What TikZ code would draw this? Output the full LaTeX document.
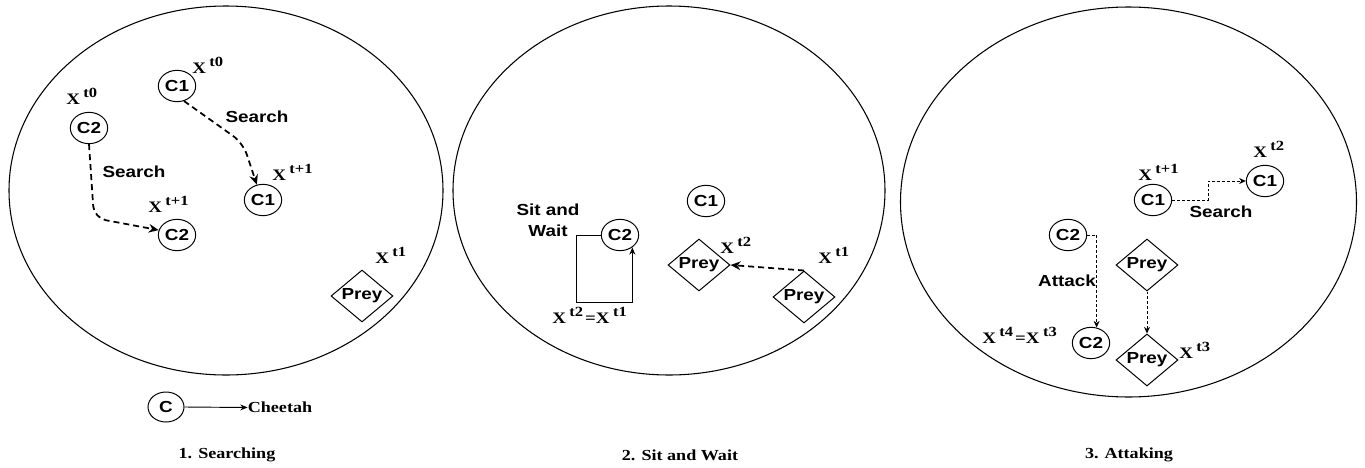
\documentclass[tikz,border=0pt]{standalone}
\usepackage{fontspec}
\usetikzlibrary{shapes.geometric,arrows.meta}
\newfontfamily\lblfont{Liberation Sans Bold}[FakeStretch=1.18]
\newfontfamily\serfont{Liberation Serif Bold}[FakeStretch=1.18]
% position label: bold serif X with a raised time index
\newcommand\xlab[1]{{\serfont\fontsize{12}{14}\selectfont X\hspace{0.22em}\raisebox{0.4em}{\fontsize{10.5}{12}\selectfont #1}}}
\newcommand\xeq{{\serfont\fontsize{12}{14}\selectfont =}}
\tikzset{
  panel/.style={draw, line width=0.8pt},
  cheetah/.style={ellipse, draw, line width=0.75pt, minimum width=28pt, minimum height=23.5pt,
    inner sep=0pt, font=\lblfont\fontsize{12}{14}\selectfont},
  prey/.style={diamond, draw, line width=0.75pt, aspect=1.2, minimum width=46.5pt, minimum height=39pt,
    inner sep=0pt, font=\lblfont\fontsize{12}{14}\selectfont},
  lbl/.style={inner sep=0pt, font=\lblfont\fontsize{12}{15.5}\selectfont, align=center},
  xl/.style={anchor=base west, inner sep=0pt},
  capt/.style={inner sep=0pt, font=\serfont\fontsize{11.5}{13}\selectfont},
  bigdash/.style={line width=1.3pt, dash pattern=on 4.5pt off 3pt, rounded corners=9pt,
    -{Stealth[length=7.5pt,width=6.5pt]}},
  thindash/.style={line width=0.7pt, dash pattern=on 2.2pt off 1.5pt,
    -{Stealth[length=5pt,width=4.5pt]}},
  solidarrow/.style={line width=0.7pt, -{Stealth[length=5.5pt,width=4.5pt]}}
}
\begin{document}
\begin{tikzpicture}[x=0.75pt,y=-0.75pt]
\useasboundingbox (0,0) rectangle (1365,468);

% the three habitat regions
\draw[panel] (226,190.5) ellipse (217 and 184.5);
\draw[panel] (669,190.5) ellipse (216 and 184.5);
\draw[panel] (1128.5,202) ellipse (228 and 195);

% ---------- 1. Searching ----------
\node[cheetah] (p1c1a) at (177,86) {C1};
\node[cheetah] (p1c1b) at (263,200) {C1};
\node[cheetah] (p1c2a) at (89,128) {C2};
\node[cheetah] (p1c2b) at (177,235) {C2};
\node[prey]    (p1prey) at (362,296) {Prey};

\node[xl] (p1x1) at (192,73)  {\xlab{t0}};
\node[xl] (p1x2) at (66,104)  {\xlab{t0}};
\node[xl] (p1x3) at (148,212) {\xlab{t+1}};
\node[xl] (p1x4) at (272,180) {\xlab{t+1}};
\node[xl] (p1x5) at (375,263) {\xlab{t1}};

\coordinate (p1k1) at (243,143);
\coordinate (p1k2) at (94,218);
\draw[bigdash] (p1c1a.-65) -- (p1k1) -- (p1c1b.112);
\draw[bigdash] (p1c2a.south) -- (p1k2) -- (p1c2b.165);
\node[lbl] (p1s1) at (257,117) {Search};
\node[lbl] (p1s2) at (134,172) {Search};

% legend
\node[cheetah, minimum width=27pt, minimum height=22.5pt] (legc) at (166,407) {C};
\node[capt] (legt) at (280,407.5) {Cheetah};
\draw[solidarrow] (legc.east) -- (legt.west);

\node[capt] (cap1) at (227,455) {1. Searching};

% ---------- 2. Sit and Wait ----------
\node[cheetah] (p2c2) at (620,235) {C2};
\node[cheetah] (p2c1) at (706,201) {C1};
\node[prey]    (p2preya) at (699,265) {Prey};
\node[prey]    (p2preyb) at (804,297) {Prey};

\node[lbl] (p2sw) at (548,220) {Sit and\\Wait};
\coordinate (p2k) at (576,302);
\draw[solidarrow] (p2c2.west) -| (p2k) -| (p2c2.-45);
\node[xl] (p2x1) at (552,323) {\xlab{t2}\hspace{0.15em}\xeq\xlab{t1}};
\node[xl] (p2x2) at (720,253) {\xlab{t2}};
\node[xl] (p2x3) at (818,263) {\xlab{t1}};
\draw[bigdash] (p2preyb.north) -- (p2preya.east);

\node[capt] (cap2) at (680,455) {2. Sit and Wait};

% ---------- 3. Attacking ----------
\node[cheetah] (p3c1a) at (1153,200) {C1};
\node[cheetah] (p3c1b) at (1265,181) {C1};
\node[cheetah] (p3c2a) at (1068,235) {C2};
\node[cheetah] (p3c2b) at (1091,343) {C2};
\node[prey]    (p3preya) at (1147,265) {Prey};
\node[prey]    (p3preyb) at (1147,360) {Prey};

\node[xl] (p3x1) at (1138,180) {\xlab{t+1}};
\node[xl] (p3x2) at (1253,157) {\xlab{t2}};
\node[xl] (p3x3) at (982,343)  {\xlab{t4}\hspace{0.15em}\xeq\xlab{t3}};
\node[xl] (p3x4) at (1179,358) {\xlab{t3}};

\coordinate (p3k1) at (1208,200);
\draw[thindash] (p3c1a.east) -- (p3k1) |- (p3c1b.west);
\draw[thindash] (p3c2a.east) -| (p3c2b.70);
\draw[thindash] (p3preya.south) -- (p3preyb.north);
\node[lbl] (p3s) at (1221,212) {Search};
\node[lbl] (p3a) at (1067,281) {Attack};

\node[capt] (cap3) at (1129,455) {3. Attaking};
\end{tikzpicture}
\end{document}
